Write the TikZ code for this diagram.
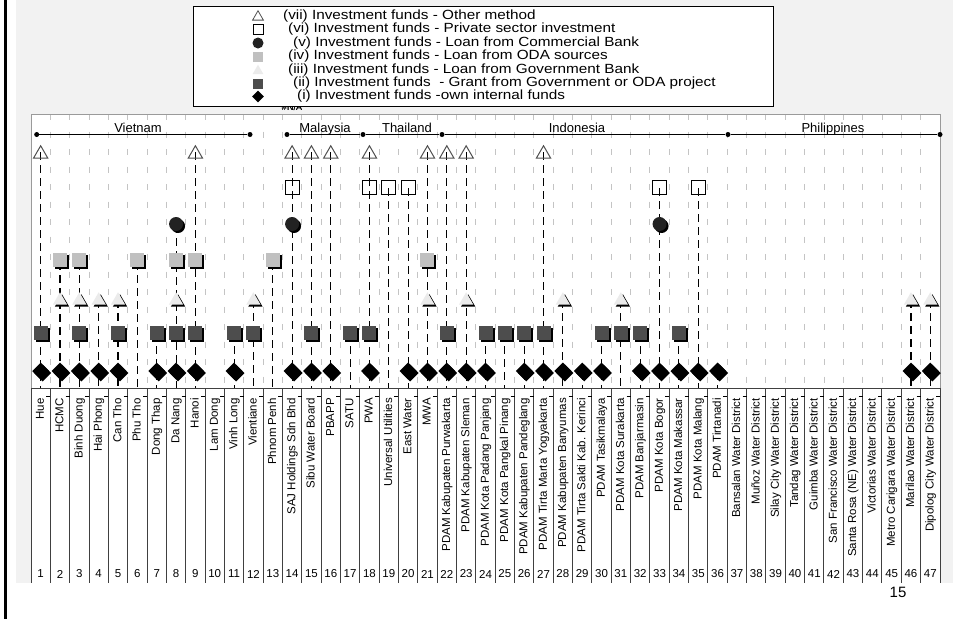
\documentclass[tikz,border=0pt]{standalone}
\usepackage{fontspec}
\setmainfont{Liberation Sans}
\newfontfamily\legfont[FakeStretch=1.15]{Liberation Sans}
\usetikzlibrary{shapes.geometric,shadows}
\definecolor{panel}{HTML}{F2F2F2}
\definecolor{gridc}{HTML}{C4C4C4}
\definecolor{framec}{HTML}{9A9A9A}
\definecolor{lsq}{HTML}{C0C0C0}
\definecolor{ltri}{HTML}{EBEBEB}
\definecolor{dsq}{HTML}{4D4D4D}
\definecolor{circc}{HTML}{222222}
\definecolor{trio}{HTML}{505050}
\definecolor{sepc}{HTML}{404040}
\tikzset{
  sh/.style={drop shadow={shadow xshift=2pt,shadow yshift=-2pt,opacity=1,fill=black}},
  gridline/.style={draw=gridc,line width=0.9pt,dash pattern=on 6pt off 11.5pt},
  dataline/.style={draw=black,line width=1.1pt,dash pattern=on 8pt off 5pt},
  mseven/.style={regular polygon,regular polygon sides=3,minimum size=16.5pt,inner sep=0pt,draw=trio,line width=1pt},
  msix/.style={rectangle,minimum size=14pt,inner sep=0pt,draw=black,line width=1pt},
  mfive/.style={circle,minimum size=14pt,inner sep=0pt,fill=circc,sh},
  mfour/.style={rectangle,minimum size=14pt,inner sep=0pt,fill=lsq,sh},
  mthree/.style={regular polygon,regular polygon sides=3,minimum size=16.5pt,inner sep=0pt,fill=ltri,sh},
  mtwo/.style={rectangle,minimum size=14pt,inner sep=0pt,fill=dsq,sh},
  mone/.style={diamond,minimum size=17pt,inner sep=0pt,fill=black,sh},
  cdot/.style={circle,fill=black,minimum size=5pt,inner sep=0pt},
  ctext/.style={font=\fontsize{13}{13}\selectfont,inner sep=0pt,anchor=base},
  lab/.style={font=\fontsize{11.5}{11.5}\selectfont,rotate=90,anchor=east,inner sep=0pt,text height=8.5pt,text depth=2pt},
  num/.style={font=\fontsize{11.5}{11.5}\selectfont,inner sep=0pt},
  legtext/.style={font=\legfont\fontsize{13.3}{13.3}\selectfont,anchor=west,inner sep=0pt},
  legsym/.style={inner sep=0pt},
}
\begin{document}
\begin{tikzpicture}[x=1pt,y=-1pt]
\useasboundingbox (0,0) rectangle (953,619);
\fill[white] (0,0) rectangle (953,619);
% panel
\fill[panel] (16,0) rectangle (953,583);
\draw[black,line width=2.5pt] (5.5,0) -- (5.5,619);
% plot area and label area
\fill[white] (31,114) rectangle (940,388);
\fill[white] (31,388) rectangle (940,583);
% gridlines
\foreach \i in {1,...,46}{
  \draw[gridline] ({31+\i*19.3404},114) -- ({31+\i*19.3404},388);
}
\draw[framec,line width=0.9pt] (31,388) -- (31,114) -- (940,114) -- (940,388);
% country brackets
\node[cdot] (c1) at (36.7,134.5) {};
\node[cdot] (c2) at (250,134.5) {};
\node[cdot] (c3) at (287,134.5) {};
\node[cdot] (c4) at (363,134.5) {};
\node[cdot] (c5) at (442,134.5) {};
\node[cdot] (c6) at (728,134.5) {};
\node[cdot] (c7) at (940,134.5) {};
\draw[line width=1pt] (c1) -- (c2);
\draw[line width=1pt] (c3) -- (c4) -- (c5) -- (c6) -- (c7);
\node[ctext] (vn) at (138,132) {Vietnam};
\node[ctext] (my) at (325,132) {Malaysia};
\node[ctext] (th) at (407,132) {Thailand};
\node[ctext] (id) at (577,132) {Indonesia};
\node[ctext] (ph) at (833,132) {Philippines};
% data lines (column / top y)
\foreach \c/\t in {1/152,2/262,3/262,4/300,5/300,6/262,7/333,8/225,9/152,11/333,12/300,13/262,14/152,15/152,16/152,17/333,18/152,19/188,20/188,21/152,22/152,23/152,24/333,25/333,26/333,27/152,28/300,29/372,30/333,31/300,32/333,33/188,34/333,35/188,36/372,46/300,47/300}{
  \pgfmathsetmacro\cx{31+(\c-0.5)*19.3404}
  \coordinate (top-\c) at (\cx,\t);
  \coordinate (ax-\c) at (\cx,388);
  \draw[dataline] (top-\c) -- (ax-\c);
}
% markers
\foreach \c in {1,9,14,15,16,18,21,22,23,27}{
  \pgfmathsetmacro\cx{31+(\c-0.5)*19.3404}
  \node[mseven] (s7-\c) at (\cx,154) {};
}
\foreach \c in {14,18,19,20,33,35}{
  \pgfmathsetmacro\cx{31+(\c-0.5)*19.3404}
  \node[msix] (s6-\c) at (\cx,187) {};
}
\foreach \c in {8,14,33}{
  \pgfmathsetmacro\cx{31+(\c-0.5)*19.3404}
  \node[mfive] (s5-\c) at (\cx,224) {};
}
\foreach \c in {2,3,6,8,9,13,21}{
  \pgfmathsetmacro\cx{31+(\c-0.5)*19.3404}
  \node[mfour] (s4-\c) at (\cx,260) {};
}
\foreach \c in {2,3,4,5,8,12,21,23,28,31,46,47}{
  \pgfmathsetmacro\cx{31+(\c-0.5)*19.3404}
  \node[mthree] (s3-\c) at (\cx,300.5) {};
}
\foreach \c in {1,3,5,7,8,9,11,12,15,17,18,22,24,25,26,27,30,31,32,34}{
  \pgfmathsetmacro\cx{31+(\c-0.5)*19.3404}
  \node[mtwo] (s2-\c) at (\cx,333) {};
}
\foreach \c in {1,2,3,4,5,7,8,9,11,14,15,16,18,20,21,22,23,24,26,27,28,29,30,32,33,34,35,36,46,47}{
  \pgfmathsetmacro\cx{31+(\c-0.5)*19.3404}
  \node[mone] (s1-\c) at (\cx,371) {};
}
% axis and separators
\draw[sepc,line width=1pt] (31,388) -- (940,388);
\foreach \i in {0,...,47}{
  \draw[sepc,line width=1pt] ({31+\i*19.3404},388) -- ({31+\i*19.3404},583);
}
\foreach \i in {1,...,47}{
  \draw[black,line width=0.8pt] ({31+\i*19.3404-4},396) -- ({31+\i*19.3404},396);
}
\foreach \c in {1,...,47}{
  \pgfmathsetmacro\cx{31+(\c-0.5)*19.3404}
  \node[num] (n-\c) at (\cx,574) {\c};
}
% category labels
\foreach \c/\t in {1/Hue,2/HCMC,3/Binh Duong,4/Hai Phong,5/Can Tho,6/Phu Tho,7/Dong Thap,8/Da Nang,9/Hanoi,10/Lam Dong,11/Vinh Long,12/Vientiane,13/Phnom Penh,14/SAJ Holdings Sdn Bhd,15/Sibu Water Board,16/PBAPP,17/SATU,18/PWA,19/Universal Utilities,20/East Water,21/MWA,22/PDAM Kabupaten Purwakarta,23/PDAM Kabupaten Sleman,24/PDAM Kota Padang Panjang,25/PDAM Kota Pangkal Pinang,26/PDAM Kabupaten Pandeglang,27/PDAM Tirta Marta Yogyakarta,28/PDAM Kabupaten Banyumas,29/PDAM Tirta Sakti Kab. Kerinci,30/PDAM Tasikmalaya,31/PDAM Kota Surakarta,32/PDAM Banjarmasin,33/PDAM Kota Bogor,34/PDAM Kota Makassar,35/PDAM Kota Malang,36/PDAM Tirtanadi,37/Bansalan Water District,38/Muñoz Water District,39/Silay City Water District,40/Tandag Water District,41/Guimba Water District,42/San Francisco Water District,43/Santa Rosa (NE) Water District,44/Victorias Water District,45/Metro Carigara Water District,46/Marilao Water District,47/Dipolog City Water District}{
  \pgfmathsetmacro\cx{31+(\c-0.5)*19.3404}
  \node[lab] (l-\c) at (\cx,398) {\t};
}
\node[font=\fontsize{15}{15}\selectfont,inner sep=0pt] (pg) at (898,592) {15};
% legend
\node[font=\fontsize{9}{9}\selectfont,inner sep=0pt] (na) at (292,107) {\#N/A};
\draw[black,line width=0.9pt,fill=white] (193,6) rectangle (773,106);
\begin{scope}
\clip (193,106.5) rectangle (773,112);
\node[font=\fontsize{9}{9}\selectfont,inner sep=0pt] (na2) at (292,107) {\#N/A};
\end{scope}
\node[legsym,regular polygon,regular polygon sides=3,minimum size=12.5pt,draw=trio,line width=0.8pt] (k7) at (258,17) {};
\node[legsym,rectangle,minimum size=10pt,draw=black,line width=0.9pt] (k6) at (258,29.5) {};
\node[legsym,circle,minimum size=11pt,fill=circc] (k5) at (258,43) {};
\node[legsym,rectangle,minimum size=10pt,fill=lsq] (k4) at (258,56.5) {};
\node[legsym,regular polygon,regular polygon sides=3,minimum size=12.5pt,fill=ltri] (k3) at (258,71) {};
\node[legsym,rectangle,minimum size=10pt,fill=dsq] (k2) at (258,83.5) {};
\node[legsym,diamond,minimum size=12pt,fill=black] (k1) at (258,96.5) {};
\node[legtext] (t7) at (283,16) {(vii) Investment funds - Other method};
\node[legtext] (t6) at (288,29.5) {(vi) Investment funds - Private sector investment};
\node[legtext] (t5) at (293,43) {(v) Investment funds - Loan from Commercial Bank};
\node[legtext] (t4) at (288,56.5) {(iv) Investment funds - Loan from ODA sources};
\node[legtext] (t3) at (288,70) {(iii) Investment funds - Loan from Government Bank};
\node[legtext] (t2) at (293,83) {(ii) Investment funds \ - Grant from Government or ODA project};
\node[legtext] (t1) at (297,96.5) {(i) Investment funds -own internal funds};
\end{tikzpicture}
\end{document}
